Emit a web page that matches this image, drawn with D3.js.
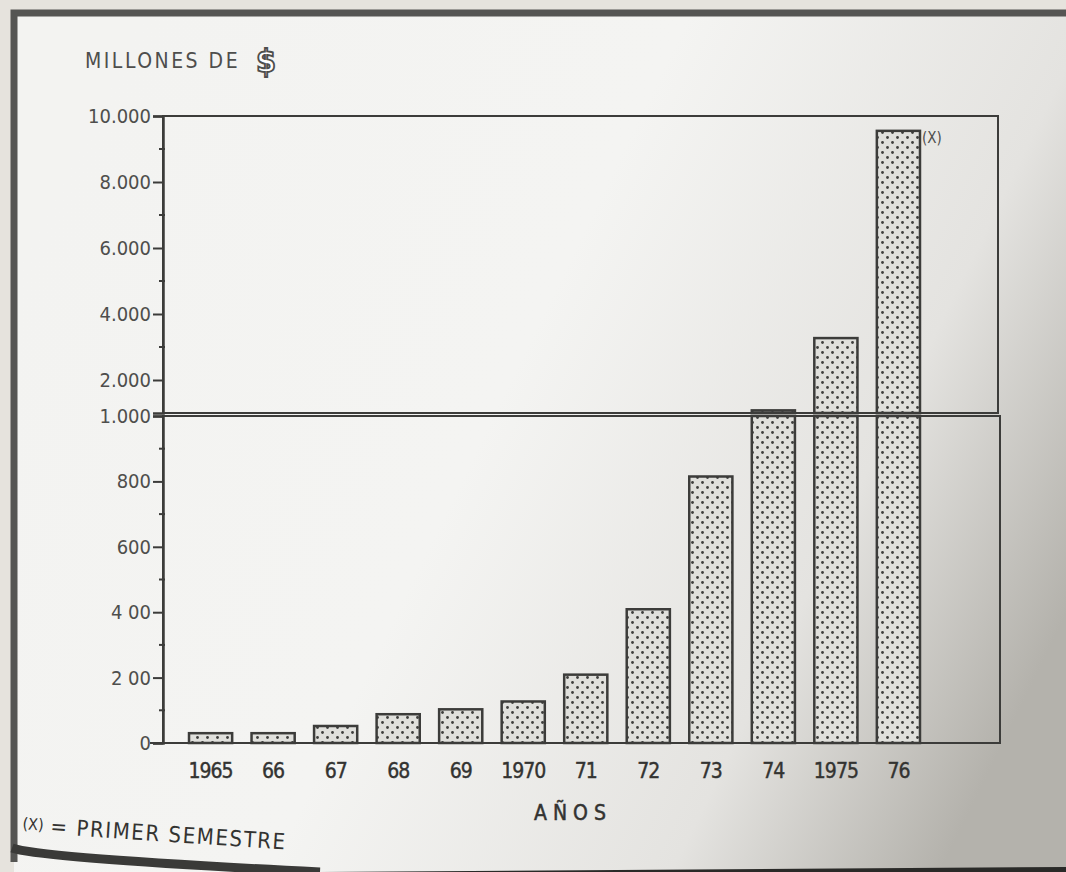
<!DOCTYPE html>
<html><head><meta charset="utf-8">
<script src="https://cdn.jsdelivr.net/npm/d3@7"></script>
<style>html,body{margin:0;padding:0;background:#eceae6;}svg{display:block;}</style>
</head><body>
<svg id="c" width="1066" height="872"></svg>
<script>
// ---- data ----
const years = ["1965","66","67","68","69","1970","71","72","73","74","1975","76"];
const values = [30, 30, 52, 88, 103, 127, 209, 409, 815, 1080, 3270, 9550];
const notes = ["","","","","","","","","","","","(X)"];
const lowTicks = [0, 200, 400, 600, 800, 1000];
const lowTickLabels = ["0", "2 00", "4 00", "600", "800", "1.000"];
const highTicks = [2000, 4000, 6000, 8000, 10000];
const highTickLabels = ["2.000", "4.000", "6.000", "8.000", "10.000"];
const lowMinor = [100, 300, 500, 700, 900];
const highMinor = [3000, 5000, 7000, 9000];
const yTitle = "MILLONES DE";
const xTitle = "A Ñ O S";
const footX = "(X)";
const footnote = "= PRIMER SEMESTRE";

const svg = d3.select("#c");
const ink = "#3c3c3a";
const txt = "#4e4e4c";
const defs = svg.append("defs");

const bg = defs.append("linearGradient").attr("id","bg").attr("x1","0").attr("y1","0.3").attr("x2","1").attr("y2","0.7");
bg.append("stop").attr("offset","0").attr("stop-color","#f3f3f1");
bg.append("stop").attr("offset","0.45").attr("stop-color","#f4f4f2");
bg.append("stop").attr("offset","0.78").attr("stop-color","#e4e3e0");
bg.append("stop").attr("offset","1").attr("stop-color","#b4b2ac");

const pat = defs.append("pattern").attr("id","dots").attr("patternUnits","userSpaceOnUse")
  .attr("width",10).attr("height",10);
pat.append("rect").attr("width",10).attr("height",10).attr("fill","#e0e0dc");
pat.append("circle").attr("cx",2.5).attr("cy",2.5).attr("r",1.4).attr("fill","#3e3e3c");
pat.append("circle").attr("cx",7.5).attr("cy",7.5).attr("r",1.4).attr("fill","#3e3e3c");

// page background & border
svg.append("rect").attr("width",1066).attr("height",872).attr("fill","#e6e3dd");
svg.append("rect").attr("x",14).attr("y",14).attr("width",1052).attr("height",858).attr("fill","url(#bg)");
svg.append("path").attr("d","M14,862 L14,13 L1066,13").attr("fill","none").attr("stroke","#555553").attr("stroke-width",7);
svg.append("path").attr("d","M12,848 Q40,858 320,872").attr("fill","none").attr("stroke","#3a3a38").attr("stroke-width",9);
svg.append("path").attr("d","M320,872 L1066,872 L1066,867 Z").attr("fill","#2a2a28");

// scales
const x = d3.scaleBand().domain(years).range([163, 946]).paddingInner(0.31).paddingOuter(0.416);
const yLo = d3.scaleLinear().domain([0, 1000]).range([743, 416]);
const yHi = d3.scaleLinear().domain([1000, 10000]).range([413, 116]);
const left = 163, right = 998;

// panel frames
const g = svg.append("g");
g.append("rect").attr("x",left).attr("y",yHi(10000)).attr("width",right-left).attr("height",yHi(1000)-yHi(10000))
  .attr("fill","none").attr("stroke",ink).attr("stroke-width",2);
g.append("rect").attr("x",left).attr("y",yLo(1000)).attr("width",right-left+2).attr("height",yLo(0)-yLo(1000))
  .attr("fill","none").attr("stroke",ink).attr("stroke-width",2);

// bars
const data = years.map((y,i)=>({year:y, v:values[i], note:notes[i]}));
const bw = x.bandwidth();
data.forEach(d=>{
  const lowTop = yLo(Math.min(d.v, 1000));
  g.append("rect").attr("x",x(d.year)).attr("y",lowTop).attr("width",bw).attr("height",yLo(0)-lowTop)
    .attr("fill","url(#dots)").attr("stroke",ink).attr("stroke-width",2.5);
  if (d.v > 1000) {
    const hiTop = yHi(d.v);
    g.append("rect").attr("x",x(d.year)).attr("y",hiTop).attr("width",bw).attr("height",yHi(1000)-hiTop)
      .attr("fill","url(#dots)").attr("stroke",ink).attr("stroke-width",2.5);
  }
  if (d.note) {
    g.append("text").attr("x",x(d.year)+bw+2).attr("y",yHi(d.v)+12).text(d.note)
      .attr("font-family","DejaVu Sans Condensed").attr("font-size",15).attr("fill",txt);
  }
});

// baseline
g.append("line").attr("x1",150).attr("x2",right+2).attr("y1",yLo(0)).attr("y2",yLo(0)).attr("stroke",ink).attr("stroke-width",2);

// left axes
const fontF = "DejaVu Sans Condensed";
const axLo = d3.axisLeft(yLo).tickValues(lowTicks).tickFormat((d,i)=>lowTickLabels[i]).tickSize(10).tickPadding(2);
const axHi = d3.axisLeft(yHi).tickValues(highTicks).tickFormat((d,i)=>highTickLabels[i]).tickSize(10).tickPadding(2);
[axLo, axHi].forEach(ax=>{
  const a = g.append("g").attr("transform",`translate(${left},0)`).call(ax);
  a.select(".domain").attr("stroke",ink).attr("stroke-width",2.5);
  a.selectAll(".tick line").attr("stroke",ink).attr("stroke-width",2);
  a.selectAll(".tick text").attr("font-family",fontF).attr("font-size",20).attr("fill",txt);
});
// minor ticks
g.selectAll(".mlo").data(lowMinor).enter().append("line").attr("x1",left-4).attr("x2",left+2)
  .attr("y1",d=>yLo(d)).attr("y2",d=>yLo(d)).attr("stroke",ink).attr("stroke-width",2);
g.selectAll(".mhi").data(highMinor).enter().append("line").attr("x1",left-4).attr("x2",left+2)
  .attr("y1",d=>yHi(d)).attr("y2",d=>yHi(d)).attr("stroke",ink).attr("stroke-width",2);

// x labels
const xa = d3.axisBottom(x).tickSize(0).tickPadding(20);
const xg = g.append("g").attr("transform",`translate(0,${yLo(0)})`).call(xa);
xg.select(".domain").remove();
xg.selectAll(".tick text").attr("font-family",fontF).attr("font-size",21).attr("fill","#333331").attr("letter-spacing",-1)
  .attr("stroke","#333331").attr("stroke-width",0.4);

// titles
svg.append("text").attr("x",85).attr("y",68).text(yTitle).attr("font-family",fontF).attr("font-size",21)
  .attr("letter-spacing",2.5).attr("fill",txt);
svg.append("text").attr("x",256).attr("y",72).text("$").attr("font-family",fontF).attr("font-size",32).attr("font-weight","bold")
  .attr("fill","#fff").attr("stroke",txt).attr("stroke-width",1.8);
svg.append("text").attr("x",570).attr("y",820).attr("text-anchor","middle").text(xTitle).attr("font-family",fontF)
  .attr("font-size",21).attr("fill","#333331").attr("stroke","#333331").attr("stroke-width",0.5);
const foot = svg.append("g").attr("transform","translate(22,832) rotate(3.8)");
foot.append("text").attr("x",0).attr("y",-3).text(footX).attr("font-family",fontF).attr("font-size",16).attr("fill","#333331");
foot.append("text").attr("x",28).attr("y",0).text(footnote).attr("font-family",fontF)
  .attr("font-size",22).attr("letter-spacing",1.6).attr("fill","#333331");
</script>
</body></html>
